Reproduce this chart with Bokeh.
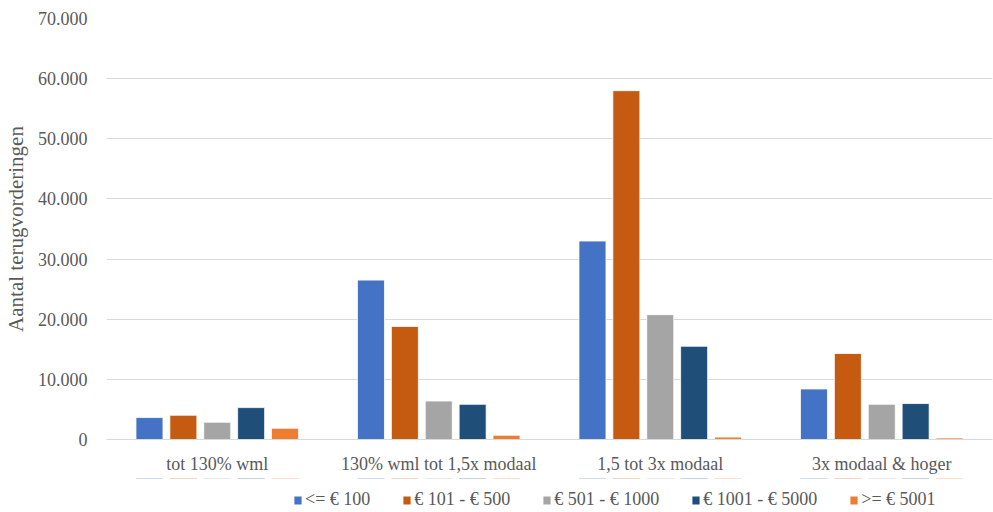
from bokeh.plotting import figure
from bokeh.models import ColumnDataSource, FactorRange, Range1d, Legend, LegendItem, CustomJSTickFormatter, FixedTicker
from bokeh.layouts import column
from bokeh.transform import dodge
from bokeh.embed import file_html
from bokeh.resources import INLINE

categories = ["tot 130% wml", "130% wml tot 1,5x modaal", "1,5 tot 3x modaal", "3x modaal & hoger"]
series_names = ["<= € 100", "€ 101 - € 500", "€ 501 - € 1000", "€ 1001 - € 5000", ">= € 5001"]
s_le100 = [3650, 26500, 33000, 8400]
s_101_500 = [4030, 18800, 58000, 14300]
s_501_1000 = [2870, 6400, 20760, 5860]
s_1001_5000 = [5300, 5850, 15500, 5980]
s_ge5001 = [1870, 700, 400, 250]
y_ticks = [0, 10000, 20000, 30000, 40000, 50000, 60000, 70000]

colors = ["#4472C4", "#C55A11", "#A5A5A5", "#1F4E79", "#ED7D31"]
series = [s_le100, s_101_500, s_501_1000, s_1001_5000, s_ge5001]
keys = ["s0", "s1", "s2", "s3", "s4"]

data = {"cat": categories}
for k, s in zip(keys, series):
    data[k] = s
src = ColumnDataSource(data)

FONT = "Liberation Serif"
TXT = "#595959"
W = 993

p = figure(x_range=FactorRange(*categories), y_range=Range1d(0, 70000),
           width=W, height=478, output_backend="svg", toolbar_location=None,
           min_border_left=100, min_border_right=1, min_border_top=18, min_border_bottom=39)
p.outline_line_color = None
p.background_fill_color = "white"
p.border_fill_color = "white"

stride = 0.153
bw = 0.122
for i, (k, c) in enumerate(zip(keys, colors)):
    p.vbar(x=dodge("cat", (i - 2) * stride, range=p.x_range), top=k, width=bw,
           source=src, fill_color=c, line_color="white", line_width=0.8)

p.yaxis.ticker = FixedTicker(ticks=y_ticks)
p.yaxis.formatter = CustomJSTickFormatter(code="""
return tick.toString().replace(/\\B(?=(\\d{3})+(?!\\d))/g, '.');
""")
p.yaxis.axis_line_color = None
p.yaxis.major_tick_line_color = None
p.yaxis.minor_tick_line_color = None
p.yaxis.major_label_text_font = FONT
p.yaxis.major_label_text_font_size = "18px"
p.yaxis.major_label_text_color = TXT
p.yaxis.major_label_standoff = 13
p.yaxis.axis_label = "Aantal terugvorderingen"
p.yaxis.axis_label_text_font = FONT
p.yaxis.axis_label_text_font_size = "21px"
p.yaxis.axis_label_text_font_style = "normal"
p.yaxis.axis_label_text_color = TXT
p.yaxis.axis_label_standoff = 7

p.xaxis.axis_line_color = "#d9d9d9"
p.xaxis.major_tick_line_color = None
p.xaxis.minor_tick_line_color = None
p.xaxis.major_label_text_font = FONT
p.xaxis.major_label_text_font_size = "18px"
p.xaxis.major_label_text_color = TXT
p.xaxis.major_label_standoff = 8

p.xgrid.grid_line_color = None
p.ygrid.grid_line_color = "#d9d9d9"
p.ygrid.grid_line_width = 1.2

# legend strip: same series bars, drawn above its visible y range (not shown)
lg = figure(x_range=p.x_range, y_range=Range1d(-140000, -70000), width=W, height=34,
            output_backend="svg", toolbar_location=None,
            x_axis_location=None, y_axis_location=None,
            min_border_left=0, min_border_right=0, min_border_top=0, min_border_bottom=0)
lg.outline_line_color = None
lg.grid.visible = False
items = []
for i, (k, c, name) in enumerate(zip(keys, colors, series_names)):
    r = lg.vbar(x=dodge("cat", (i - 2) * stride, range=lg.x_range), top=k,
                width=bw, source=src, fill_color=c, line_color=None)
    items.append(LegendItem(label=name, renderers=[r]))

legend = Legend(items=items, orientation="horizontal", location=(187, 2),
                label_text_font=FONT, label_text_font_size="18px", label_text_color=TXT,
                glyph_width=9, glyph_height=10, spacing=32, label_standoff=3,
                border_line_color=None, background_fill_alpha=0, padding=0, margin=0)
lg.add_layout(legend, "center")

layout = column(p, lg, spacing=0)
open("out.html", "w").write(file_html(layout, INLINE))
